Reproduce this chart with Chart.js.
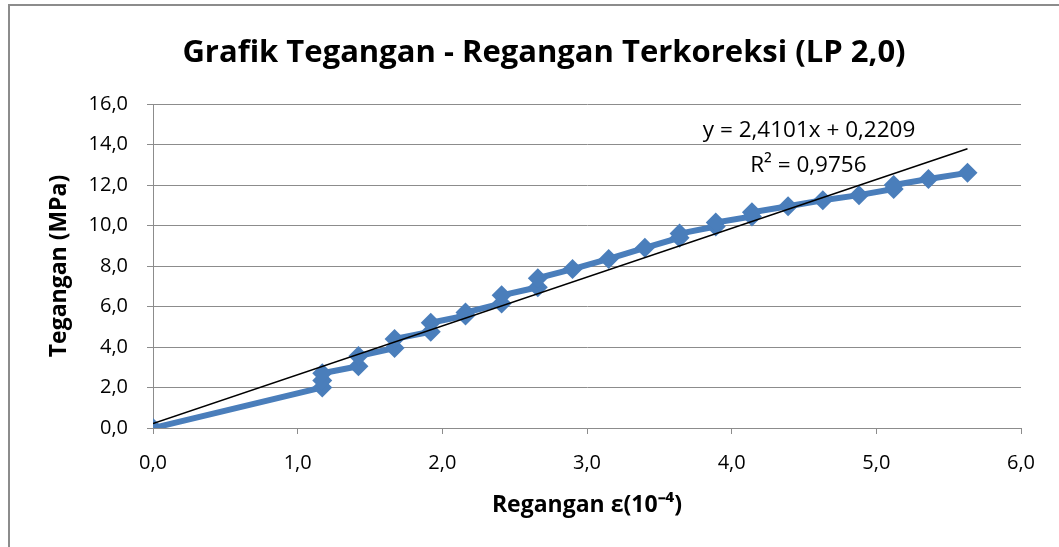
<!DOCTYPE html>
<html>
<head>
    <title>Grafik Tegangan - Regangan Terkoreksi (LP 2,0)</title>
    <script src="https://cdn.jsdelivr.net/npm/chart.js@4.4.0/dist/chart.umd.min.js"></script>
    <style>
        html, body {
            margin: 0;
            padding: 0;
            background: #fff;
        }
        .chart-container {
            width: 1059px;
            height: 547px;
            position: relative;
        }
    </style>
</head>
<body>
    <div class="chart-container">
        <canvas id="myChart"></canvas>
    </div>

    <script>
        // regangan (10^-4) and tegangan (MPa)
        const regangan = [0, 1.17, 1.17, 1.17, 1.42, 1.42, 1.67, 1.67, 1.92, 1.92, 2.16, 2.16, 2.41, 2.41, 2.66, 2.66,
                          2.90, 3.15, 3.40, 3.64, 3.64, 3.89, 3.89, 4.14, 4.14, 4.39, 4.63, 4.88, 5.12, 5.12, 5.36, 5.63];
        const tegangan = [0, 2.0, 2.35, 2.7, 3.05, 3.55, 3.95, 4.4, 4.75, 5.2, 5.55, 5.7, 6.15, 6.55, 6.95, 7.4,
                          7.85, 8.35, 8.9, 9.4, 9.6, 9.95, 10.15, 10.45, 10.65, 10.95, 11.25, 11.5, 11.8, 12.0, 12.3, 12.6];

        // linear trendline shown in the chart
        const trendSlope = 2.4101;
        const trendIntercept = 0.2209;
        const trendLabel = ['y = 2,4101x + 0,2209', 'R\u00b2 = 0,9756'];
        const chartTitle = 'Grafik Tegangan - Regangan Terkoreksi (LP 2,0)';

        const points = regangan.map((x, i) => ({ x: x, y: tegangan[i] }));
        const xEnd = regangan[regangan.length - 1];
        const trendPoints = [
            { x: 0, y: trendIntercept },
            { x: xEnd, y: trendSlope * xEnd + trendIntercept }
        ];

        const fmt = v => v.toFixed(1).replace('.', ',');

        const extras = {
            id: 'extras',
            beforeDraw(chart) {
                const c = chart.ctx;
                c.save();
                c.strokeStyle = '#8c8c8c';
                c.lineWidth = 2;
                c.beginPath();
                c.moveTo(9, 560);
                c.lineTo(9, 5);
                c.lineTo(1070, 5);
                c.stroke();

                c.fillStyle = '#000';
                c.font = 'bold 31px "Open Sans", sans-serif';
                c.textAlign = 'center';
                c.textBaseline = 'middle';
                c.fillText(chartTitle, 544, 53);
                c.restore();
            },
            afterDatasetsDraw(chart) {
                const c = chart.ctx;
                const xs = chart.scales.x, ys = chart.scales.y;
                c.save();
                c.fillStyle = '#000';
                c.font = '22.5px "Open Sans", sans-serif';
                c.textAlign = 'center';
                c.textBaseline = 'middle';
                c.fillText(trendLabel[0], xs.getPixelForValue(4.535), ys.getPixelForValue(14.67));
                c.fillText(trendLabel[1], xs.getPixelForValue(4.53), ys.getPixelForValue(12.95));
                c.restore();
            }
        };

        new Chart(document.getElementById('myChart'), {
            type: 'scatter',
            data: {
                datasets: [{
                    label: 'Tegangan',
                    data: points,
                    showLine: true,
                    borderColor: '#4a7ebb',
                    backgroundColor: '#4a7ebb',
                    borderWidth: 6,
                    pointStyle: 'rectRot',
                    pointRadius: 10,
                    pointBorderWidth: 0,
                    order: 2
                }, {
                    label: 'Trendline',
                    data: trendPoints,
                    showLine: true,
                    borderColor: '#000',
                    borderWidth: 1.5,
                    pointRadius: 0,
                    order: 1
                }]
            },
            options: {
                responsive: true,
                maintainAspectRatio: false,
                animation: false,
                layout: {
                    padding: { left: 10, right: 38, top: 104, bottom: 0 }
                },
                plugins: {
                    legend: { display: false },
                    tooltip: { enabled: false },
                    title: { display: false }
                },
                scales: {
                    x: {
                        type: 'linear',
                        min: 0,
                        max: 6,
                        ticks: {
                            stepSize: 1,
                            color: '#000',
                            font: { family: '"Open Sans", sans-serif', size: 20 },
                            padding: 17,
                            callback: v => fmt(v)
                        },
                        grid: {
                            drawOnChartArea: false,
                            drawTicks: true,
                            tickLength: 6,
                            color: '#8c8c8c'
                        },
                        border: { color: '#8c8c8c', width: 1 },
                        title: {
                            display: true,
                            text: 'Regangan \u03b5(10\u207b\u2074)',
                            color: '#000',
                            font: { family: '"Open Sans", sans-serif', size: 23, weight: 'bold' },
                            padding: { top: 0, bottom: 28 }
                        },
                        afterFit(scale) { scale.height = 119; }
                    },
                    y: {
                        min: 0,
                        max: 16,
                        ticks: {
                            stepSize: 2,
                            color: '#000',
                            font: { family: '"Open Sans", sans-serif', size: 20 },
                            padding: 19,
                            callback: v => fmt(v)
                        },
                        grid: {
                            color: '#8c8c8c',
                            tickLength: 6
                        },
                        border: { color: '#8c8c8c', width: 1 },
                        title: {
                            display: true,
                            text: 'Tegangan (MPa)',
                            color: '#000',
                            font: { family: '"Open Sans", sans-serif', size: 23, weight: 'bold' },
                            padding: { top: 36, bottom: 0 }
                        },
                        afterFit(scale) { scale.width = 143; }
                    }
                }
            },
            plugins: [extras]
        });
    </script>
</body>
</html>
